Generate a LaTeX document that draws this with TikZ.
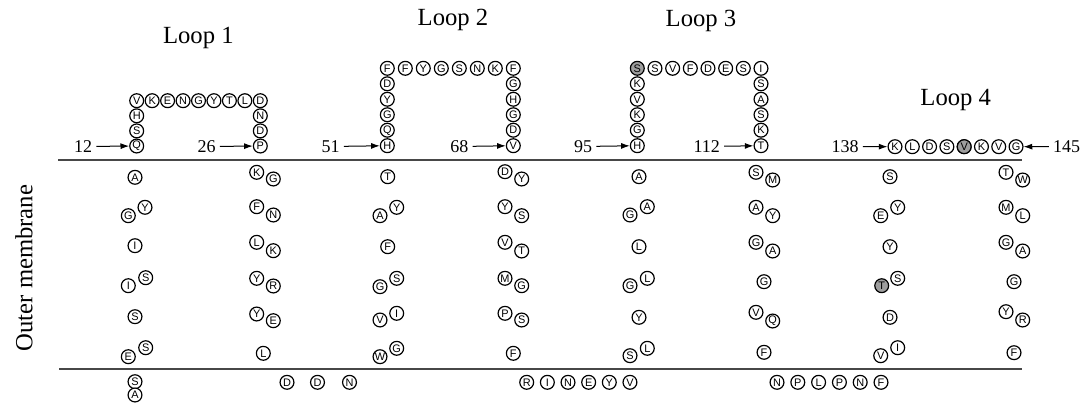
\documentclass[tikz,border=0pt]{standalone}
\usepackage{fontspec}
\setmainfont{Liberation Serif}
\newfontfamily\resfont{Liberation Sans}
\usetikzlibrary{arrows.meta}
\newcommand\rsd[5][res]{\node[#1] (#2) at (#3,#4) {#5};}
\begin{document}
\begin{tikzpicture}[x=0.75pt,y=-0.75pt,
  res/.style={circle,draw=black,line width=0.9pt,fill=white,minimum size=10.4pt,inner sep=0pt,font=\resfont\fontsize{8.2}{9}\selectfont},
  gres/.style={res,fill=black!38},
  lbl/.style={font=\fontsize{18.5}{20}\selectfont,anchor=base,inner sep=0pt},
  num/.style={font=\fontsize{13.5}{14}\selectfont,inner sep=0pt},
  arr/.style={-{Latex[length=6.5pt,width=4.5pt]},line width=0.75pt,shorten <=3pt},
  mem/.style={line width=1.5pt,draw=black!72}]
\useasboundingbox (0,0) rectangle (1087,410);
% membrane lines
\coordinate (tl) at (58,159.5); \coordinate (tr) at (1022,159.5);
\coordinate (bl) at (59,369); \coordinate (br) at (1022,369);
\draw[mem] (tl) -- (tr);
\draw[mem] (bl) -- (br);
% labels
\node[lbl] (L1) at (198.3,43.3) {Loop 1};
\node[lbl] (L2) at (453,26) {Loop 2};
\node[lbl] (L3) at (701,26.7) {Loop 3};
\node[lbl] (L4) at (955.7,105) {Loop 4};
\node[rotate=90,font=\fontsize{18.5}{20}\selectfont,inner sep=0pt] (om) at (24,268) {Outer membrane};
% Loop 1
\foreach \t [count=\i] in {V,K,E,N,G,Y,T,L,D}
  \node[res] (a\i) at ({136.7+(\i-1)*15.45},100.7) {\t};
\foreach \t [count=\i] in {H,S,Q}
  \node[res] (al\i) at (136.7,{100.7+\i*15.1}) {\t};
\foreach \t [count=\i] in {N,D,P}
  \node[res] (ar\i) at (260.3,{100.7+\i*15.1}) {\t};
% Loop 2
\foreach \t [count=\i] in {F,F,Y,G,S,N,K,F}
  \node[res] (b\i) at ({387.3+(\i-1)*18},68.3) {\t};
\foreach \t [count=\i] in {D,Y,G,Q,H}
  \node[res] (bl\i) at (387.3,{68.3+\i*15.48}) {\t};
\foreach \t [count=\i] in {G,H,G,D,V}
  \node[res] (br\i) at (513.3,{68.3+\i*15.48}) {\t};
% Loop 3
\node[gres] (c1) at (637.3,68.3) {S};
\foreach \t [count=\i from 2] in {S,V,F,D,E,S,I}
  \node[res] (c\i) at ({637.3+(\i-1)*17.67},68.3) {\t};
\foreach \t [count=\i] in {K,V,K,G,H}
  \node[res] (cl\i) at (637.3,{68.3+\i*15.48}) {\t};
\foreach \t [count=\i] in {S,A,S,K,T}
  \node[res] (cr\i) at (761,{68.3+\i*15.48}) {\t};
% Loop 4
\foreach \t [count=\i] in {K,L,D,S,V,K,V,G}
  \node[res] (d\i) at ({895+(\i-1)*17.29},146.7) {\t};
\node[gres] (d5g) at (d5) {V};
% numbers and arrows
\node[num] (n12) at (83,146.5) {12};
\node[num] (n26) at (206.7,146.5) {26};
\node[num] (n51) at (330.7,146.5) {51};
\node[num] (n68) at (459.3,146.5) {68};
\node[num] (n95) at (583,146.5) {95};
\node[num] (n112) at (706.7,146.5) {112};
\node[num] (n138) at (845,146.5) {138};
\node[num] (n145) at (1066.7,146.5) {145};
\draw[arr] (n12) -- (al3);
\draw[arr] (n26) -- (ar3);
\draw[arr] (n51) -- (bl5);
\draw[arr] (n68) -- (br5);
\draw[arr] (n95) -- (cl5);
\draw[arr] (n112) -- (cr5);
\draw[arr] (n138) -- (d1);
\draw[arr] (n145) -- (d8);
% column 1
\rsd{m1a}{135}{177.3}{A}
\rsd{m1b}{128.3}{215.7}{G}\rsd{m1c}{145}{207.3}{Y}
\rsd{m1d}{135}{245.7}{I}
\rsd{m1e}{128.3}{285.7}{I}\rsd{m1f}{145.7}{277.7}{S}
\rsd{m1g}{135}{316.7}{S}
\rsd{m1h}{128.3}{356.7}{E}\rsd{m1i}{145.7}{347.7}{S}
\rsd{m1j}{135}{381.7}{S}\rsd{m1k}{135}{395}{A}
% column 2
\rsd{m2a}{256.7}{172.3}{K}\rsd{m2b}{273.3}{179}{G}
\rsd{m2c}{256.7}{206.7}{F}\rsd{m2d}{273.3}{215}{N}
\rsd{m2e}{256.7}{242.3}{L}\rsd{m2f}{273.3}{250.7}{K}
\rsd{m2g}{256.7}{278.3}{Y}\rsd{m2h}{273.3}{286}{R}
\rsd{m2i}{256.7}{314}{Y}\rsd{m2j}{273.3}{320.7}{E}
\rsd{m2k}{263.3}{353.3}{L}
% column 3
\rsd{m3a}{387.7}{176.7}{T}
\rsd{m3b}{380}{215.7}{A}\rsd{m3c}{396.7}{207.3}{Y}
\rsd{m3d}{387.7}{246.7}{F}
\rsd{m3e}{380}{286.7}{G}\rsd{m3f}{396.7}{278.3}{S}
\rsd{m3g}{380}{320}{V}\rsd{m3h}{396.7}{313.3}{I}
\rsd{m3i}{380}{356.7}{W}\rsd{m3j}{396.7}{348.3}{G}
% column 4
\rsd{m4a}{505}{171.7}{D}\rsd{m4b}{521.7}{179}{Y}
\rsd{m4c}{505}{206.7}{Y}\rsd{m4d}{521.7}{215.7}{S}
\rsd{m4e}{505}{242.3}{V}\rsd{m4f}{521.7}{251}{T}
\rsd{m4g}{505}{278.3}{M}\rsd{m4h}{521.7}{285.7}{G}
\rsd{m4i}{505}{313.3}{P}\rsd{m4j}{521.7}{320}{S}
\rsd{m4k}{513.3}{353.3}{F}
% column 5
\rsd{m5a}{639}{176.7}{A}
\rsd{m5b}{630}{215}{G}\rsd{m5c}{647.3}{206.7}{A}
\rsd{m5d}{639}{246.7}{L}
\rsd{m5e}{630}{285.7}{G}\rsd{m5f}{647.3}{278.3}{L}
\rsd{m5g}{639}{317.3}{Y}
\rsd{m5h}{630}{355.7}{S}\rsd{m5i}{647.3}{348.3}{L}
% column 6
\rsd{m6a}{756}{172.3}{S}\rsd{m6b}{772.7}{180}{M}
\rsd{m6c}{756}{207.3}{A}\rsd{m6d}{772.7}{215.7}{Y}
\rsd{m6e}{756}{242.3}{G}\rsd{m6f}{772.7}{251}{A}
\rsd{m6g}{764}{281.7}{G}
\rsd{m6h}{756}{312.3}{V}\rsd{m6i}{772.7}{321}{Q}
\rsd{m6j}{764}{352.3}{F}
% column 7
\rsd{m7a}{890}{176.7}{S}
\rsd{m7b}{880.7}{215.7}{E}\rsd{m7c}{897.7}{207.3}{Y}
\rsd{m7d}{890}{246.7}{Y}
\rsd[gres]{m7e}{881.7}{285.7}{T}\rsd{m7f}{897.7}{278.3}{S}
\rsd{m7g}{890}{317.3}{D}
\rsd{m7h}{880.7}{355.7}{V}\rsd{m7i}{897.7}{347.7}{I}
% column 8
\rsd{m8a}{1006}{172.3}{T}\rsd{m8b}{1022.7}{180}{W}
\rsd{m8c}{1006}{207.3}{M}\rsd{m8d}{1022.7}{215.7}{L}
\rsd{m8e}{1006}{242.3}{G}\rsd{m8f}{1022.7}{251}{A}
\rsd{m8g}{1014}{281.7}{G}
\rsd{m8h}{1006}{311.7}{Y}\rsd{m8i}{1022.7}{320}{R}
\rsd{m8j}{1014}{352.7}{F}
% periplasmic turns
\rsd{p1}{287}{382.3}{D}\rsd{p2}{317.5}{382.3}{D}\rsd{p3}{349.5}{382.3}{N}
\foreach \t [count=\i] in {R,I,N,E,Y,V}
  \node[res] (q\i) at ({526.7+(\i-1)*20.65},382.3) {\t};
\foreach \t [count=\i] in {N,P,L,P,N,F}
  \node[res] (r\i) at ({777+(\i-1)*20.8},382.3) {\t};
\end{tikzpicture}
\end{document}
